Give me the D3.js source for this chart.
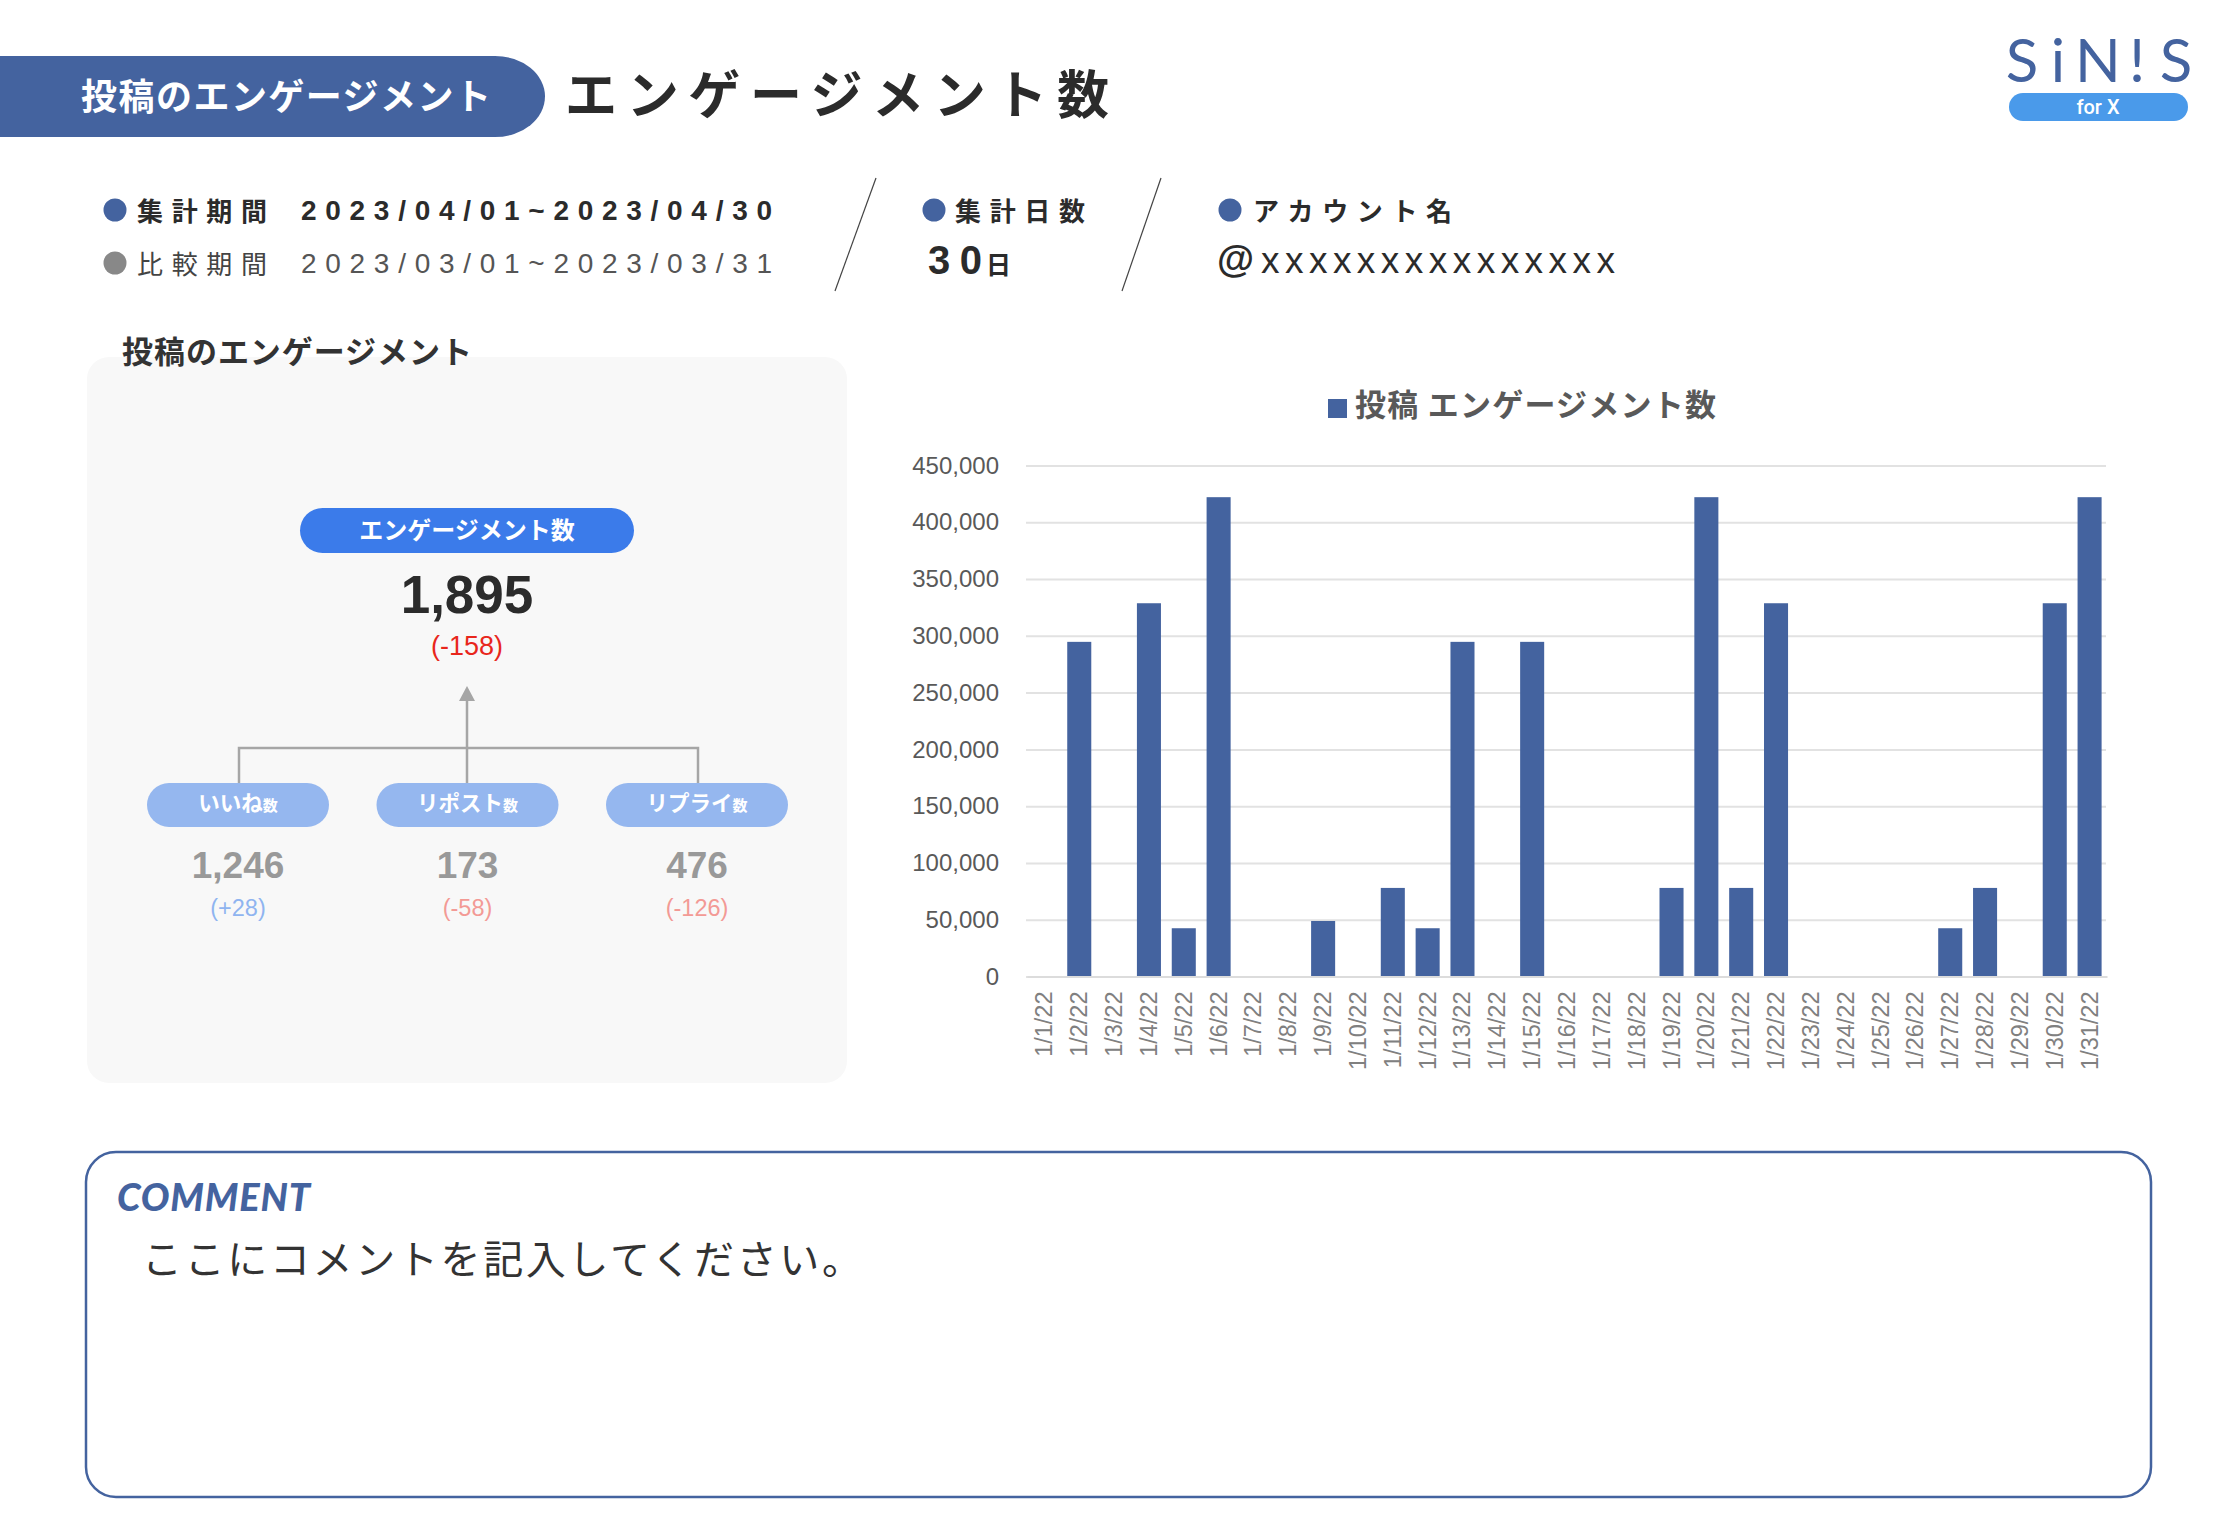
<!DOCTYPE html>
<html>
<head>
<meta charset="utf-8">
<script src="https://cdn.jsdelivr.net/npm/d3@7"></script>
<style>
  html, body { margin: 0; padding: 0; background: #fff; }
  svg { display: block; }
  text { font-family: "Liberation Sans", "Noto Sans CJK JP", sans-serif; }
  .jp { font-family: "Noto Sans CJK JP", "Liberation Sans", sans-serif; }
</style>
</head>
<body>
<svg id="page" width="2228" height="1530"></svg>
<script>
const categories = ["1/1/22","1/2/22","1/3/22","1/4/22","1/5/22","1/6/22","1/7/22","1/8/22","1/9/22","1/10/22",
  "1/11/22","1/12/22","1/13/22","1/14/22","1/15/22","1/16/22","1/17/22","1/18/22","1/19/22","1/20/22",
  "1/21/22","1/22/22","1/23/22","1/24/22","1/25/22","1/26/22","1/27/22","1/28/22","1/29/22","1/30/22","1/31/22"];
const engagements = [0,294700,0,328700,42500,422100,0,0,48900,0,
  78000,42500,294700,0,294700,0,0,0,78000,422100,
  78000,328700,0,0,0,0,42500,78000,0,328700,422100];
const yTicks = [0,50000,100000,150000,200000,250000,300000,350000,400000,450000];
const subLabels = ["いいね","リポスト","リプライ"];
const subValues = ["1,246","173","476"];
const subDeltas = ["(+28)","(-58)","(-126)"];

const blue = "#44639f";
const svg = d3.select("#page");

function label(x, y, str, size, opts) {
  opts = opts || {};
  const t = svg.append("text")
    .attr("x", x).attr("y", y)
    .attr("font-size", size)
    .attr("fill", opts.fill || "#2b2b2b")
    .attr("font-weight", opts.weight || 400)
    .attr("text-anchor", opts.anchor || "start")
    .text(str);
  if (opts.jp) t.attr("class", "jp");
  if (opts.length) t.attr("textLength", opts.length).attr("lengthAdjust", "spacing");
  if (opts.italic) t.attr("font-style", "italic");
  return t;
}

// header
svg.append("path")
  .attr("d", "M0,56 H495 A50,40.5 0 0 1 545,96.5 A50,40.5 0 0 1 495,137 H0 Z")
  .attr("fill", blue);
label(81, 110, "投稿のエンゲージメント", 36, {fill: "#fff", weight: 700, jp: true, length: 410});
label(565, 114, "エンゲージメント数", 52, {weight: 700, jp: true, length: 544});

// logo
svg.append("text")
  .attr("x", "2022 2058 2098 2137 2176").attr("y", 82)
  .attr("text-anchor", "middle")
  .attr("font-size", 60)
  .attr("fill", blue)
  .style("font-family", "Lato")
  .text("SiN!S");
svg.append("rect").attr("x", 2009).attr("y", 93).attr("width", 179).attr("height", 28).attr("rx", 14).attr("fill", "#4a9aea");
label(2098, 114, "for X", 20, {fill: "#fff", anchor: "middle", weight: 500}).style("font-family", "Roboto");

// period info
const infoDots = [[115, 210, blue], [115, 263, "#888"], [934, 210, blue], [1230, 210, blue]];
svg.selectAll("circle.info").data(infoDots).enter().append("circle")
  .attr("class", "info")
  .attr("cx", d => d[0]).attr("cy", d => d[1]).attr("r", 11.5).attr("fill", d => d[2]);
label(137, 221, "集計期間", 26, {weight: 700, jp: true, length: 130});
label(137, 274, "比較期間", 26, {fill: "#444", jp: true, length: 130});
label(301, 220, "2023/04/01~2023/04/30", 28, {weight: 700, length: 471});
label(301, 273, "2023/03/01~2023/03/31", 28, {fill: "#555", length: 471});
label(955, 221, "集計日数", 26, {weight: 700, jp: true, length: 130});
label(928, 274, "30", 40, {weight: 700, length: 54});
label(986, 274, "日", 25, {weight: 700, jp: true});
label(1253, 221, "アカウント名", 26, {weight: 700, jp: true, length: 199});
label(1217, 272, "@", 38, {weight: 700});
label(1261, 273, "xxxxxxxxxxxxxxx", 37, {length: 354});
const slashes = [[876, 178, 835, 291], [1161, 178, 1122, 291]];
svg.selectAll("line.slash").data(slashes).enter().append("line")
  .attr("class", "slash")
  .attr("x1", d => d[0]).attr("y1", d => d[1]).attr("x2", d => d[2]).attr("y2", d => d[3])
  .attr("stroke", "#444").attr("stroke-width", 1.2);

// left panel
svg.append("rect").attr("x", 87).attr("y", 357).attr("width", 760).attr("height", 726).attr("rx", 22).attr("fill", "#f8f8f8");
label(122, 363, "投稿のエンゲージメント", 31, {weight: 700, fill: "#333", jp: true, length: 350});
svg.append("rect").attr("x", 300).attr("y", 508).attr("width", 334).attr("height", 45).attr("rx", 22.5).attr("fill", "#3b7bea");
label(467, 539, "エンゲージメント数", 24, {fill: "#fff", weight: 700, jp: true, anchor: "middle"});
label(467, 613, "1,895", 53, {weight: 700, anchor: "middle"});
label(467, 655, "(-158)", 27, {fill: "#e8261c", anchor: "middle"});

// tree connector
const treeX = d3.scalePoint().domain(subLabels).range([238, 697]);
const connector = svg.append("g").attr("fill", "none").attr("stroke", "#a6a6a6").attr("stroke-width", 2.5);
connector.append("path").attr("d", `M${treeX(subLabels[0]) + 1},783 V748 H${treeX(subLabels[2]) + 1} V783`);
connector.append("path").attr("d", "M467,783 V695");
svg.append("path").attr("d", "M467,686 L475,701 H459 Z").attr("fill", "#a6a6a6");

const subs = svg.selectAll("g.sub").data(subLabels).enter().append("g")
  .attr("class", "sub")
  .attr("transform", d => `translate(${treeX(d)},0)`);
subs.append("rect").attr("x", -91).attr("y", 783).attr("width", 182).attr("height", 44).attr("rx", 22).attr("fill", "#95b7ef");
const subText = subs.append("text").attr("class", "jp").attr("y", 811).attr("text-anchor", "middle")
  .attr("fill", "#fff").attr("font-weight", 700);
subText.append("tspan").attr("font-size", 21.5).text(d => d);
subText.append("tspan").attr("font-size", 15).text("数");
subs.append("text").attr("y", 878).attr("text-anchor", "middle").attr("font-size", 37).attr("font-weight", 700)
  .attr("fill", "#999").text((d, i) => subValues[i]);
subs.append("text").attr("y", 916).attr("text-anchor", "middle").attr("font-size", 23.5)
  .attr("fill", (d, i) => subDeltas[i].includes("+") ? "#8fb4f0" : "#f39a95").text((d, i) => subDeltas[i]);

// bar chart
const x = d3.scaleBand().domain(categories).range([1027, 2107]).paddingInner(0.31).paddingOuter(0.155);
const y = d3.scaleLinear().domain([0, 450000]).range([976.5, 465.5]);

const yAxis = svg.append("g")
  .attr("transform", "translate(1026,0)")
  .call(d3.axisLeft(y).tickValues(yTicks).tickFormat(d3.format(",")).tickSize(-1080).tickPadding(27));
yAxis.select(".domain").remove();
yAxis.selectAll("line").attr("stroke", "#e2e2e2").attr("stroke-width", 2);
yAxis.selectAll("text").attr("font-size", 24).attr("fill", "#595959").style("font-family", "Liberation Sans");

svg.selectAll("rect.bar").data(engagements).enter().append("rect")
  .attr("class", "bar")
  .attr("x", (d, i) => x(categories[i]))
  .attr("y", d => y(d))
  .attr("width", x.bandwidth())
  .attr("height", d => y(0) - y(d))
  .attr("fill", blue);

const xAxis = svg.append("g")
  .attr("transform", "translate(0,976.5)")
  .call(d3.axisBottom(x).tickSize(0).tickPadding(0));
xAxis.select(".domain").attr("stroke", "#dcdcdc").attr("stroke-width", 2);
xAxis.selectAll("text")
  .attr("font-size", 23.5)
  .attr("fill", "#808080")
  .style("font-family", "Liberation Sans")
  .attr("text-anchor", "end")
  .attr("dy", 0)
  .attr("transform", "translate(0,15) rotate(-90)")
  .attr("x", 0).attr("y", 8);

// legend
svg.append("rect").attr("x", 1328).attr("y", 399).attr("width", 19).attr("height", 19).attr("fill", blue);
label(1355, 416, "投稿 エンゲージメント数", 31, {weight: 700, fill: "#595959", jp: true, length: 361});

// comment box
svg.append("rect").attr("x", 86).attr("y", 1152).attr("width", 2065).attr("height", 345).attr("rx", 30)
  .attr("fill", "#fff").attr("stroke", blue).attr("stroke-width", 2.5);
label(117, 1211, "COMMENT", 38, {fill: blue, weight: 900, italic: true, length: 193}).style("font-family", "Lato");
label(142, 1274, "ここにコメントを記入してください。", 40, {fill: "#333", jp: true, length: 720});
</script>
</body>
</html>
